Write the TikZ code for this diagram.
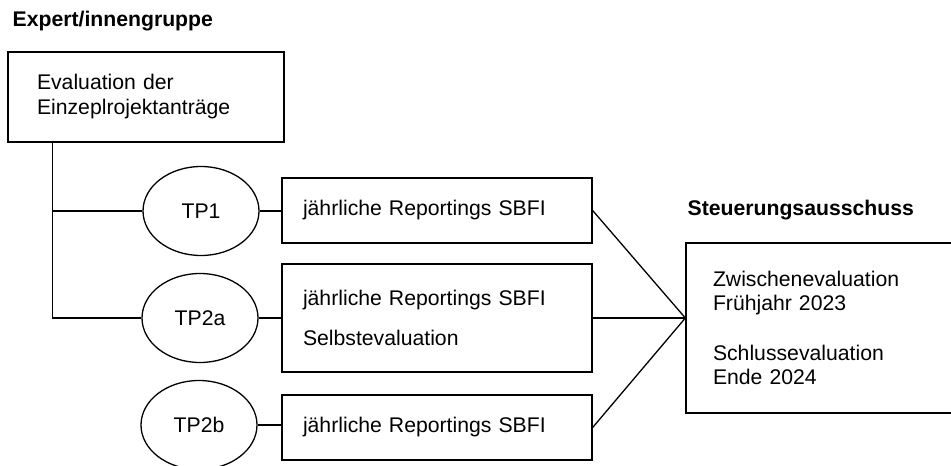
\documentclass[tikz,border=0pt]{standalone}
\usepackage{fontspec}
\setmainfont{Liberation Sans}
\usetikzlibrary{shapes.geometric,calc}
\begin{document}
\begin{tikzpicture}[x=1pt,y=-1pt,line width=1.3pt,
  box/.style={draw,rectangle,inner ysep=0pt,align=left,font=\fontsize{21.2}{25}\selectfont},
  tp/.style={draw,ellipse,minimum width=116pt,minimum height=89pt,inner sep=0pt,font=\fontsize{21.2}{25}\selectfont},
  head/.style={font=\bfseries\fontsize{21.2}{24}\selectfont,inner sep=0pt,anchor=base west},
  link/.style={line width=1.3pt}]
\useasboundingbox (0,0) rectangle (951,466);

\node[head] (h1) at (12,26) {Expert/innengruppe};
\node[head] (h2) at (687,215) {Steuerungsausschuss};

\node[box,minimum height=90pt,inner xsep=29pt,text width=218pt] (top) at (146,97)
  {Evaluation der\\Einzeplrojektanträge};

\node[tp] (tp1) at (201,211) {TP1};
\node[tp] (tp2a) at (200,318) {TP2a};
\node[tp] (tp2b) at (199,425) {TP2b};

\node[box,minimum height=65pt,inner xsep=21pt,text width=268pt] (r1) at (437,210.5)
  {jährliche Reportings SBFI};
\node[box,minimum height=108pt,inner xsep=21pt,text width=268pt] (r2) at (437,318)
  {jährliche Reportings SBFI\\[15pt]Selbstevaluation};
\node[box,minimum height=65pt,inner xsep=21pt,text width=268pt] (r3) at (437,427.5)
  {jährliche Reportings SBFI};

\node[box,minimum height=170pt,inner xsep=27pt,text width=220pt,font=\fontsize{21.2}{24}\selectfont] (sa) at (823,328)
  {Zwischenevaluation\\Frühjahr 2023\\[26pt]Schlussevaluation\\Ende 2024};

\coordinate (trunk) at ($(top.south west)+(45,0)$);
\draw[link] (trunk) |- (tp2a.west);
\draw[link] (trunk |- tp1.west) -- (tp1.west);
\draw[link] (tp1.east) -- (tp1.east -| r1.west);
\draw[link] (tp2a.east) -- (tp2a.east -| r2.west);
\draw[link] (tp2b.east) -- (tp2b.east -| r3.west);
\coordinate (conv) at (sa.west |- r2.east);
\draw[link] (r1.east) -- (conv);
\draw[link] (r2.east) -- (conv);
\draw[link] (r3.east) -- (conv);
\end{tikzpicture}
\end{document}
